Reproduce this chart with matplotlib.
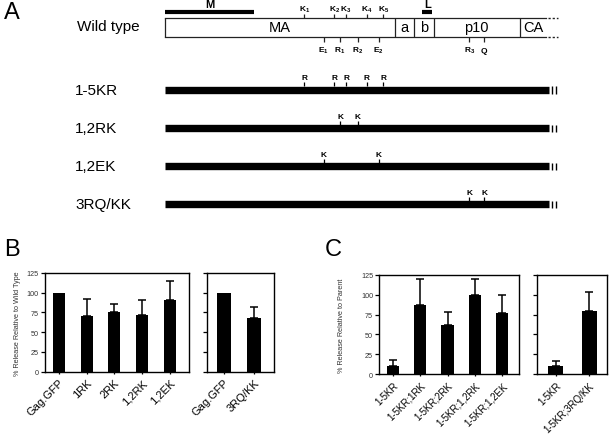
import matplotlib.pyplot as plt
import numpy as np

plt.rcParams['font.family'] = ['Liberation Sans', 'DejaVu Sans']
plt.rcParams['mathtext.fontset'] = 'custom'
plt.rcParams['mathtext.rm'] = 'Liberation Sans'
plt.rcParams['mathtext.bf'] = 'Liberation Sans:bold'

# ---- panel A: Gag schematic, positions in residues ----
domain_names = ['MA', 'a', 'b', 'p10', 'CA']
domain_edges = [0, 155, 168, 181, 239, 257]
m_domain = [0, 60]
l_domain = [173.5, 180]
top_sites = [94, 114, 122, 136, 147]
top_names = ['K_1', 'K_2', 'K_3', 'K_4', 'K_5']
bottom_sites = [107, 118, 130, 144, 205, 215]
bottom_names = ['E_1', 'R_1', 'R_2', 'E_2', 'R_3', 'Q']
gag_end = 259

mutant_names = ['1-5KR', '1,2RK', '1,2EK', '3RQ/KK']
mutant_sites = [[94, 114, 122, 136, 147], [118, 130], [107, 144], [205, 215]]
mutant_letter = ['R', 'K', 'K', 'K']

# ---- panel B ----
b1_labels = ['Gag.GFP', '1RK', '2RK', '1,2RK', '1,2EK']
b1_vals = [100, 70, 75, 71, 90]
b1_err = [0, 22, 11, 19, 24]
b2_labels = ['Gag.GFP', '3RQ/KK']
b2_vals = [100, 68]
b2_err = [0, 14]

# ---- panel C ----
c1_labels = ['1-5KR', '1-5KR;1RK', '1-5KR;2RK', '1-5KR;1,2RK', '1-5KR;1,2EK']
c1_vals = [11, 87, 62, 99, 77]
c1_err = [7, 32, 16, 20, 23]
c2_labels = ['1-5KR', '1-5KR;3RQ/KK']
c2_vals = [10, 80]
c2_err = [7, 23]

W, H = 609, 435
fig = plt.figure(figsize=(W / 100, H / 100), dpi=100)

# schematic axes over the whole figure: x in residues, y in pixels
sc = 1.484
x0 = 165
axA = fig.add_axes([0, 0, 1, 1])
axA.set_xlim(-x0 / sc, (W - x0) / sc)
axA.set_ylim(H, 0)
axA.axis('off')

ytop, ybot = 19, 37.7
ymid = (ytop + ybot) / 2
lc = '#222222'
axA.plot([domain_edges[0], domain_edges[-1]], [ytop, ytop], color=lc, lw=0.9)
axA.plot([domain_edges[0], domain_edges[-1]], [ybot, ybot], color=lc, lw=0.9)
axA.vlines(domain_edges[:-1], ytop, ybot, color=lc, lw=0.9)
for yy in (ytop, ybot):
    axA.plot([domain_edges[-1] + 0.8, domain_edges[-1] + 8], [yy, yy], color=lc, lw=1.0,
             ls=(0, (1.6, 1.4)))
for i, name in enumerate(domain_names):
    axA.text((domain_edges[i] + domain_edges[i + 1]) / 2, ymid, name,
             ha='center', va='center', fontsize=10.5)

axA.plot(m_domain, [13, 13], color='black', lw=3.0, solid_capstyle='butt')
axA.text(np.mean(m_domain), 5.5, 'M', ha='center', va='center', fontsize=8, fontweight='bold')
axA.plot(l_domain, [13, 13], color='black', lw=3.0, solid_capstyle='butt')
axA.text(np.mean(l_domain), 5.5, 'L', ha='center', va='center', fontsize=8, fontweight='bold')

axA.vlines(top_sites, ytop - 4, ytop, color=lc, lw=0.9)
for s, n in zip(top_sites, top_names):
    axA.text(s, ytop - 4.3, r'$\mathbf{%s}$' % n, ha='center', va='bottom', fontsize=6)
axA.vlines(bottom_sites, ybot, ybot + 5.5, color=lc, lw=0.9)
for s, n in zip(bottom_sites, bottom_names):
    axA.text(s, ybot + 8, r'$\mathbf{%s}$' % n, ha='center', va='top', fontsize=6)

axA.text(-59, ymid - 1, 'Wild type', ha='left', va='center', fontsize=11)

row_y = [91, 129.3, 167.3, 205.3]
for y, name, sites, let in zip(row_y, mutant_names, mutant_sites, mutant_letter):
    axA.plot([0, gag_end], [y, y], color='black', lw=5.3, solid_capstyle='butt')
    axA.vlines([gag_end + 1.7, gag_end + 4.2], y - 3.6, y + 3.6, color='black', lw=1.0)
    axA.vlines(sites, y - 7.7, y - 3.6, color='black', lw=0.9)
    for s in sites:
        axA.text(s, y - 8.5, let, ha='center', va='bottom', fontsize=6, fontweight='bold')
    axA.text(-60.5, y, name, ha='left', va='center', fontsize=11)

fig.text(4 / W, 1 - 13 / H, 'A', fontsize=17, ha='left', va='center')
fig.text(4 / W, 1 - 250 / H, 'B', fontsize=17, ha='left', va='center')
fig.text(325 / W, 1 - 250 / H, 'C', fontsize=17, ha='left', va='center')


def px_axes(left, right, top, bottom):
    return fig.add_axes([left / W, 1 - bottom / H, (right - left) / W, (bottom - top) / H])


def bar_panel(ax, labels, vals, err, xlim, width, show_y, ylabel=None, label_x=None, fs=8):
    x = np.arange(len(vals))
    ax.bar(x, vals, width=width, color='black')
    err = np.array(err, dtype=float)
    m = err > 0
    ax.errorbar(x[m], np.array(vals)[m], yerr=[np.zeros(m.sum()), err[m]],
                fmt='none', ecolor='black', elinewidth=1.1, capsize=2.6, capthick=1.1)
    ax.set_xlim(*xlim)
    ax.set_ylim(0, 125)
    ax.set_yticks([0, 25, 50, 75, 100, 125])
    ax.set_xticks(x)
    ax.set_xticklabels(labels, rotation=45, ha='right', va='top',
                       rotation_mode='anchor', fontsize=fs)
    ax.tick_params(axis='y', length=3, width=0.9, labelsize=5.2, pad=1.5, labelcolor='#333333')
    ax.tick_params(axis='x', length=1.5, width=0.9, pad=2.5)
    if not show_y:
        ax.set_yticklabels([])
    for sp in ax.spines.values():
        sp.set_linewidth(1.0)
    if ylabel:
        ax.set_ylabel(ylabel, fontsize=5.2, color='#333333')
        ax.yaxis.set_label_coords(label_x, 0.5)


axB1 = px_axes(45, 189, 273.7, 372.7)
bar_panel(axB1, b1_labels, b1_vals, b1_err, (-0.505, 4.7), 0.44, True,
          '% Release Relative to Wild Type', -0.17)
axB2 = px_axes(207, 274.3, 273.7, 372.7)
bar_panel(axB2, b2_labels, b2_vals, b2_err, (-0.57, 1.68), 0.48, False)

axC1 = px_axes(379.3, 519.3, 275.7, 375.3)
bar_panel(axC1, c1_labels, c1_vals, c1_err, (-0.49, 4.62), 0.44, True,
          '% Release Relative to Parent', -0.245, fs=7)
axC2 = px_axes(536.7, 606.5, 275.7, 375.3)
bar_panel(axC2, c2_labels, c2_vals, c2_err, (-0.58, 1.52), 0.45, False, fs=7)

fig.savefig('out.png', dpi=100)
